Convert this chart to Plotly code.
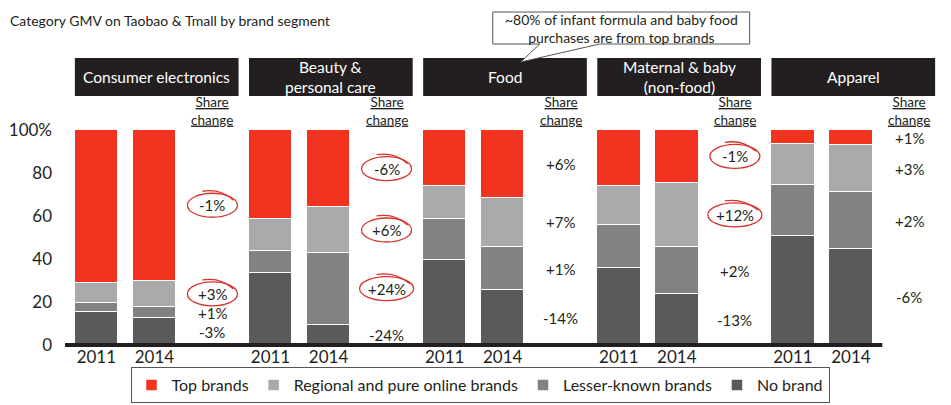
import plotly.graph_objects as go

categories = ["Consumer electronics", "Beauty &<br>personal care", "Food",
              "Maternal & baby<br>(non-food)", "Apparel"]
years = ["2011", "2014"]
segments = ["No brand", "Lesser-known brands", "Regional and pure online brands", "Top brands"]

no_brand_2011 = [15.5, 33.5, 39.5, 36, 50.5]
no_brand_2014 = [12.5, 9.5, 25.5, 23.5, 44.5]
lesser_2011 = [4, 10, 19, 20, 24]
lesser_2014 = [5, 33.5, 20, 22, 26.5]
regional_2011 = [9.5, 15, 15.5, 18, 19]
regional_2014 = [12.5, 21, 23, 30, 22]
top_2011 = [71, 41.5, 26, 26, 6.5]
top_2014 = [70, 36, 31.5, 24.5, 7]

nobrand_change = ["-3%", "-24%", "-14%", "-13%", "-6%"]
lesser_change = ["+1%", "+24%", "+1%", "+2%", "+2%"]
regional_change = ["+3%", "+6%", "+7%", "+12%", "+3%"]
top_change = ["-1%", "-6%", "+6%", "-1%", "+1%"]

# (category index, segment index) of circled share changes
circled = [(0, 3), (0, 2), (1, 3), (1, 2), (1, 1), (3, 3), (3, 2)]

callout_text = "~80% of infant formula and baby food<br>purchases are from top brands"
title_text = "Category GMV on Taobao & Tmall by brand segment"
share_header = "<u>Share</u><br><u>change</u>"

colors = ["#5a5a5c", "#818284", "#a9aaac", "#f2331f"]
FONT = "Lato"
INK = "#231f20"

vals_2011 = [no_brand_2011, lesser_2011, regional_2011, top_2011]
vals_2014 = [no_brand_2014, lesser_2014, regional_2014, top_2014]
changes = [nobrand_change, lesser_change, regional_change, top_change]

n = len(categories)
xs, tickvals, ticktext = [], [], []
for i in range(n):
    xs += [3 * i, 3 * i + 1]
    tickvals += [3 * i, 3 * i + 1]
    ticktext += years

fig = go.Figure()
for s in range(4):
    yv = []
    for i in range(n):
        yv += [vals_2011[s][i], vals_2014[s][i]]
    fig.add_trace(go.Bar(
        x=xs, y=yv, name=segments[s], width=0.75,
        marker=dict(color=colors[s], line=dict(color="white", width=1.5)),
        hoverinfo="skip"))

# the page body has an 8px margin; figure is sized to fit the window
OFF = 8
FW, FH = 951 - OFF, 405 - OFF
XMIN, XMAX = -0.54, 14.62
UNIT = 58.08
L, T = 65 - OFF, 130 - OFF
R = FW - (65 + (XMAX - XMIN) * UNIT - OFF)
B = FH - (345 - OFF)
W, H = FW - L - R, FH - T - B
def py(p):  # page pixel -> paper y
    return (345 - p) / H
def px(p):  # page pixel -> paper x
    return (p - 65) / W

annotations = []
shapes = []
for i in range(n):
    # header box
    shapes.append(dict(type="rect", xref="x", yref="paper",
                       x0=3 * i - 0.37, x1=3 * i + 2.45, y0=py(96), y1=py(58),
                       fillcolor=INK, line=dict(width=0), layer="above"))
    annotations.append(dict(xref="x", yref="paper", x=3 * i + 1.04, y=py(77),
                            xanchor="center", yanchor="middle", borderpad=0,
                            text=categories[i], showarrow=False,
                            font=dict(color="white", size=15.5, family=FONT)))
    annotations.append(dict(xref="x", yref="paper", x=3 * i + 2, y=py(111),
                            xanchor="center", yanchor="middle", borderpad=0,
                            text=share_header, showarrow=False,
                            font=dict(color=INK, size=13.5, family=FONT)))
    base = 0
    for s in range(4):
        mid = base + vals_2014[s][i] / 2
        base += vals_2014[s][i]
        annotations.append(dict(xref="x", yref="y", x=3 * i + 2, y=mid,
                                xanchor="center", yanchor="middle",
                                text=changes[s][i], showarrow=False,
                                font=dict(color=INK, size=15, family=FONT)))
        if (i, s) in circled:
            wd = 27 if len(changes[s][i]) > 3 else 25
            shapes.append(dict(type="circle", xref="x", yref="y",
                               xsizemode="pixel", ysizemode="pixel",
                               xanchor=3 * i + 2, yanchor=mid,
                               x0=-wd, x1=wd, y0=-12, y1=12,
                               line=dict(color="#d8322a", width=1.3)))
            shapes.append(dict(type="path", xref="x", yref="y",
                               xsizemode="pixel", ysizemode="pixel",
                               xanchor=3 * i + 2, yanchor=mid,
                               path=f"M -10,14 Q 8,17 {wd-4},5",
                               line=dict(color="#d8322a", width=1.3)))

# baseline (x axis line), spanning the bars only
shapes.append(dict(type="line", xref="x", yref="paper", x0=XMIN, x1=13.54, y0=0, y1=0,
                   line=dict(color=INK, width=4), layer="above"))

# callout
shapes.append(dict(type="path", xref="paper", yref="paper",
                   path=(f"M {px(493)},{py(12)} L {px(750)},{py(12)} L {px(750)},{py(44)} "
                         f"L {px(600)},{py(44)} L {px(521)},{py(62)} L {px(540)},{py(44)} "
                         f"L {px(493)},{py(44)} Z"),
                   fillcolor="white", line=dict(color="#555555", width=1), layer="above"))
annotations.append(dict(xref="paper", yref="paper", x=px(621.5), y=py(28),
                        xanchor="center", yanchor="middle",
                        text=callout_text, showarrow=False,
                        font=dict(color=INK, size=14, family=FONT)))

annotations.append(dict(xref="paper", yref="paper", x=px(8), y=py(20),
                        xanchor="left", yanchor="middle", text=title_text, showarrow=False,
                        font=dict(color=INK, size=14, family=FONT)))

fig.update_layout(
    barmode="stack", width=FW, height=FH,
    margin=dict(l=L, r=R, t=T, b=B, autoexpand=False),
    plot_bgcolor="white", paper_bgcolor="white",
    font=dict(family=FONT, color=INK),
    showlegend=True,
    legend=dict(orientation="h", traceorder="reversed",
                xref="container", yref="container",
                x=(480 - OFF) / FW, xanchor="center",
                y=(FH - (367 - OFF)) / FH, yanchor="top",
                bordercolor="#555555", borderwidth=1,
                font=dict(size=16, family=FONT), itemwidth=30),
    annotations=annotations, shapes=shapes,
    bargap=0,
)
fig.update_xaxes(range=[XMIN, XMAX], tickvals=tickvals, ticktext=ticktext,
                 showline=False, ticks="",
                 showgrid=False, zeroline=False, tickfont=dict(size=17, family=FONT))
fig.update_yaxes(range=[0, 100], tickvals=[0, 20, 40, 60, 80, 100],
                 ticktext=["0", "20", "40", "60", "80", "100%"], showgrid=False,
                 zeroline=False, showline=False, ticks="", ticklabelstandoff=12,
                 tickfont=dict(size=17, family=FONT))

fig.write_html("out.html")
